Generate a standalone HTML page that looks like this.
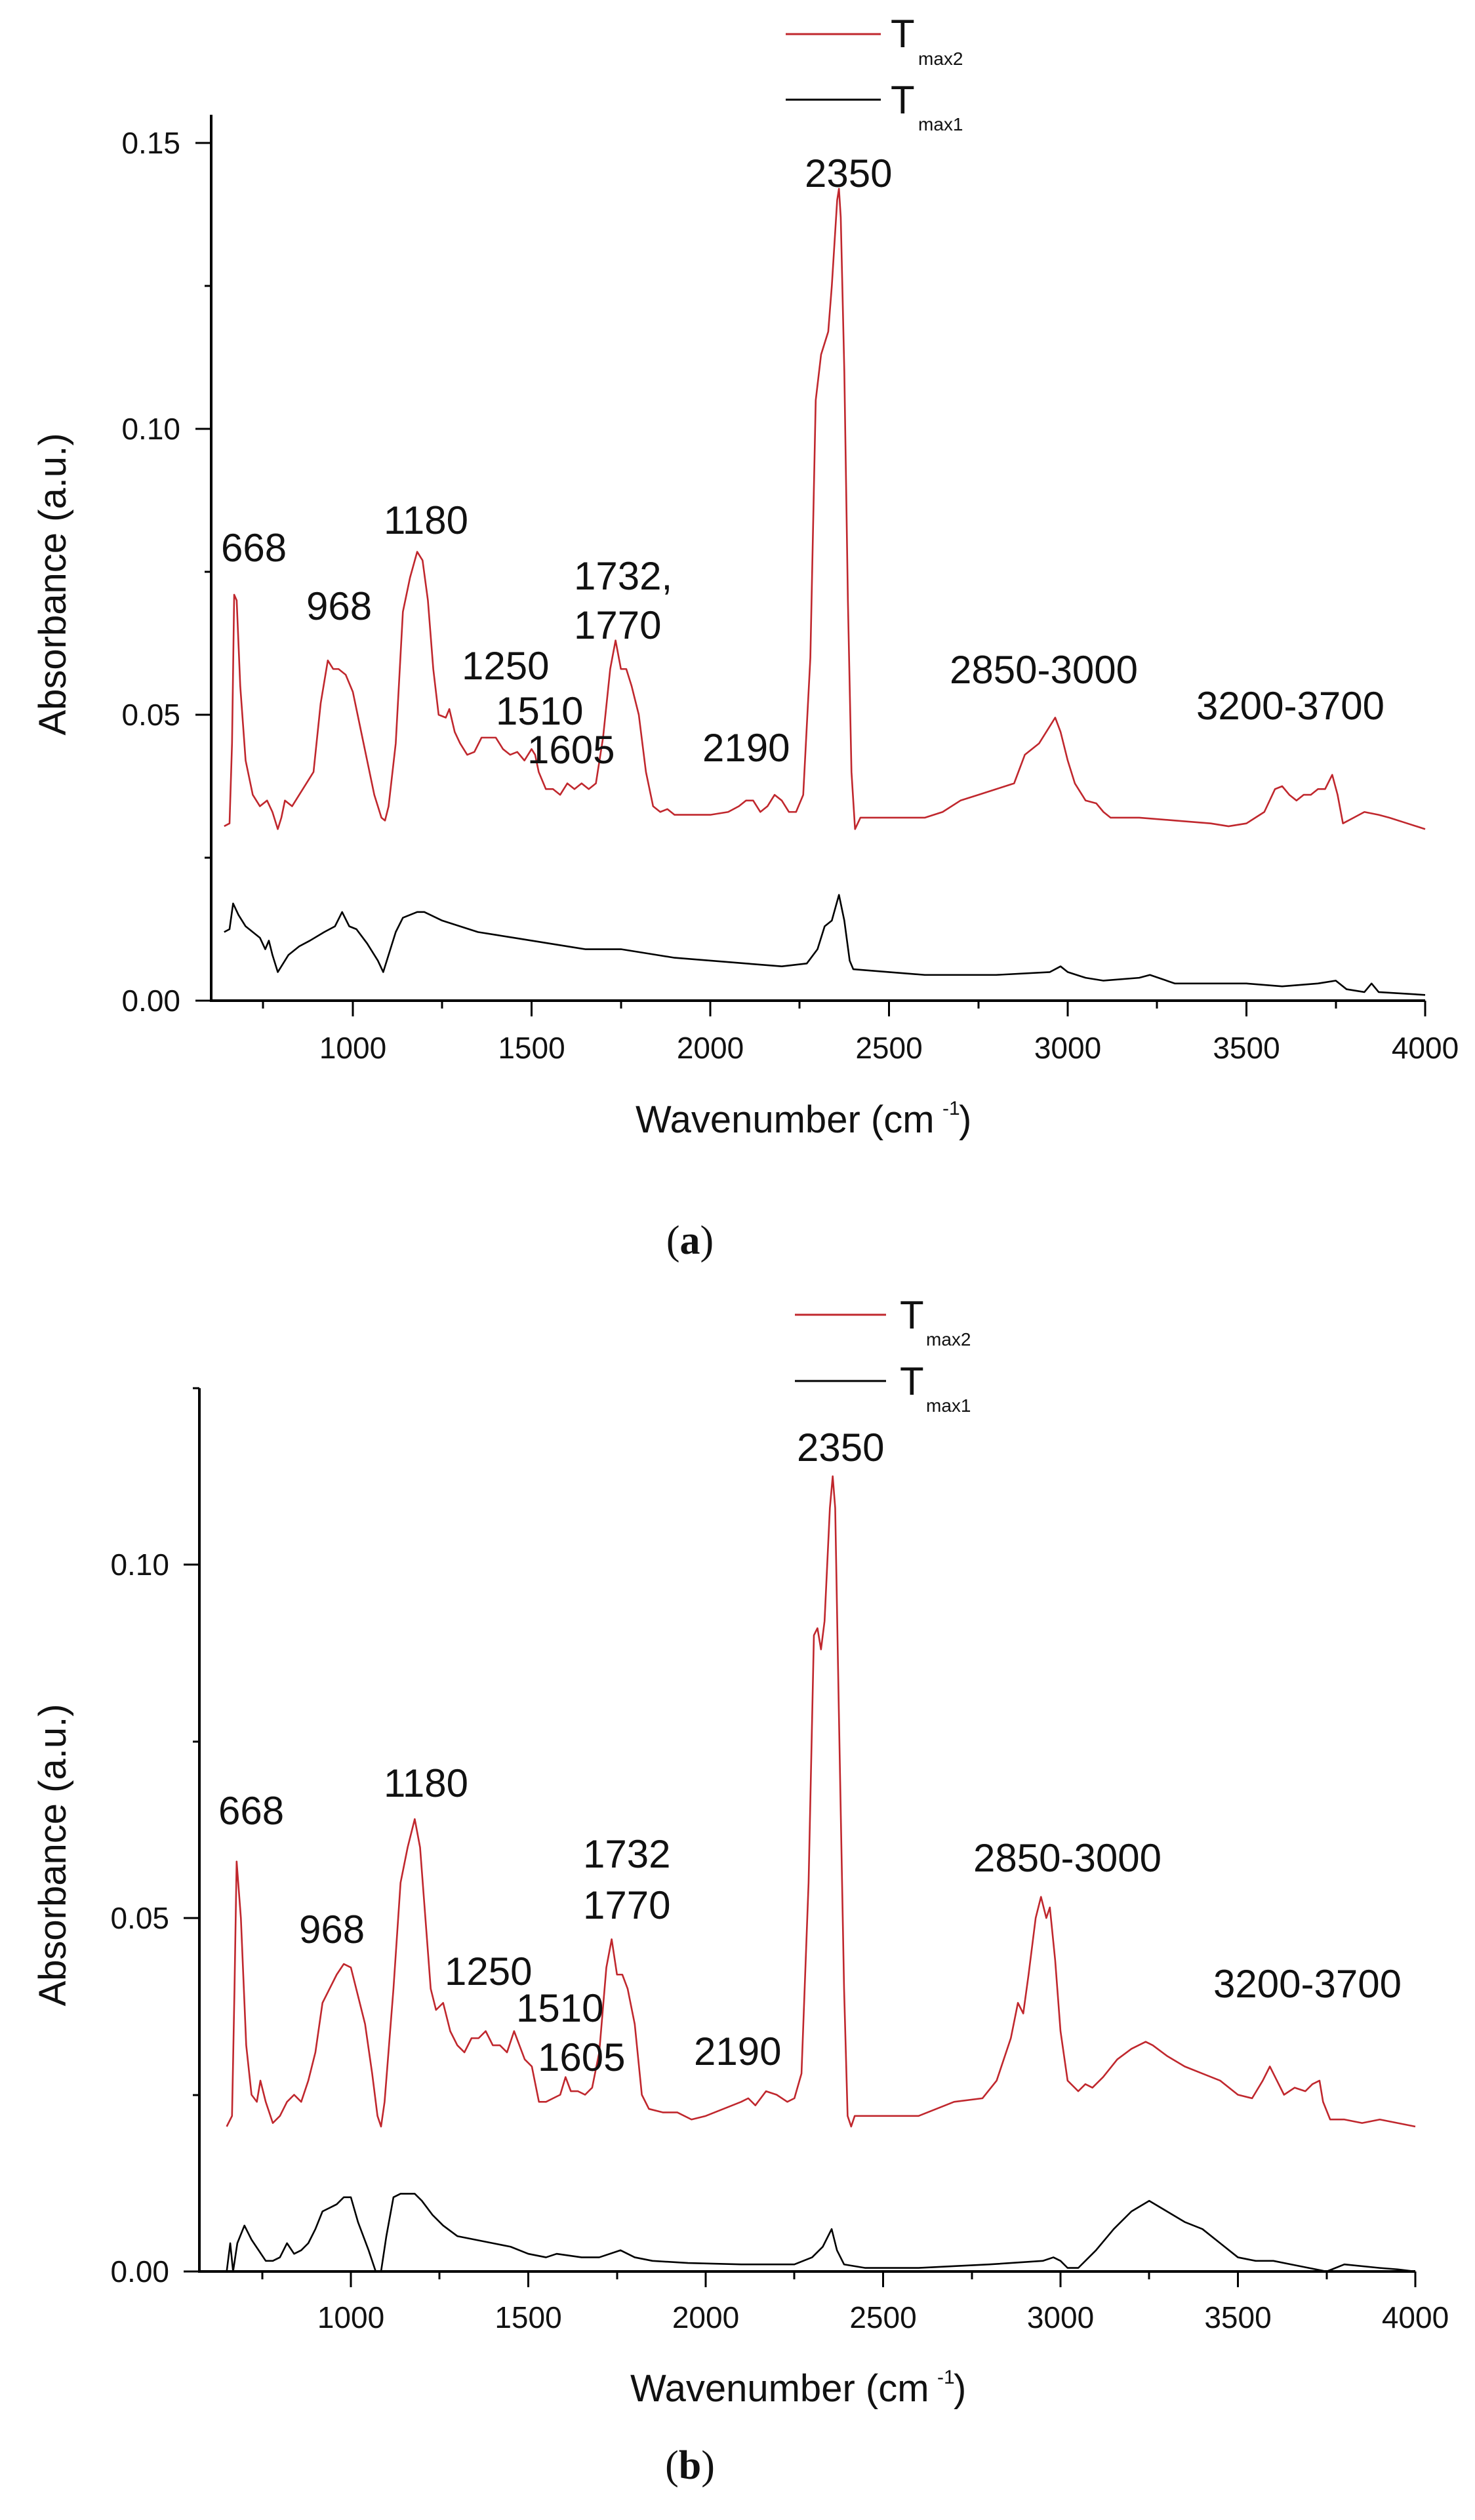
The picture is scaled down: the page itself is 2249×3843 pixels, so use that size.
<!DOCTYPE html>
<html><head><meta charset="utf-8"><style>
html,body{margin:0;padding:0;background:#fff;}
svg{display:block;}
text{font-family:"Liberation Sans",Arial,sans-serif;fill:#111;}
.t{font-size:46px;}
.p{font-size:60px;}
.ti{font-size:58px;}
.r{fill:none;stroke:#c0272d;stroke-width:2.6;vector-effect:non-scaling-stroke;stroke-linejoin:round;}
.k{fill:none;stroke:#000;stroke-width:2.6;vector-effect:non-scaling-stroke;stroke-linejoin:round;}
.ax{stroke:#000;stroke-width:4;fill:none;}
.tk{stroke:#000;stroke-width:3;}
</style></head><body>
<svg width="2249" height="3843" viewBox="0 0 2249 3843" xmlns="http://www.w3.org/2000/svg">
<!-- ===== Panel A ===== -->
<g>
<line x1="1198" y1="52" x2="1343" y2="52" stroke="#c0272d" stroke-width="3"/>
<text x="1358" y="72" style="font-size:60px">T</text><text x="1400" y="99" style="font-size:28px">max2</text>
<line x1="1198" y1="152" x2="1343" y2="152" stroke="#000" stroke-width="3"/>
<text x="1358" y="173" style="font-size:60px">T</text><text x="1400" y="199" style="font-size:28px">max1</text>

<path class="ax" d="M322,175 V1526 H2173"/>
<!-- y ticks -->
<g class="tk">
<line x1="298" y1="1526" x2="322" y2="1526"/><line x1="298" y1="1090" x2="322" y2="1090"/>
<line x1="298" y1="654" x2="322" y2="654"/><line x1="298" y1="218" x2="322" y2="218"/>
<line x1="312" y1="1308" x2="322" y2="1308"/><line x1="312" y1="872" x2="322" y2="872"/><line x1="312" y1="436" x2="322" y2="436"/>
</g>
<g class="t" text-anchor="end">
<text x="275" y="1542">0.00</text><text x="275" y="1106">0.05</text><text x="275" y="670">0.10</text><text x="275" y="234">0.15</text>
</g>
<!-- x ticks -->
<g class="tk">
<line x1="538" y1="1526" x2="538" y2="1550"/><line x1="810.5" y1="1526" x2="810.5" y2="1550"/>
<line x1="1083" y1="1526" x2="1083" y2="1550"/><line x1="1355.5" y1="1526" x2="1355.5" y2="1550"/>
<line x1="1628" y1="1526" x2="1628" y2="1550"/><line x1="1900.5" y1="1526" x2="1900.5" y2="1550"/>
<line x1="2173" y1="1526" x2="2173" y2="1550"/>
<line x1="401" y1="1526" x2="401" y2="1538"/><line x1="674" y1="1526" x2="674" y2="1538"/>
<line x1="947" y1="1526" x2="947" y2="1538"/><line x1="1219" y1="1526" x2="1219" y2="1538"/>
<line x1="1492" y1="1526" x2="1492" y2="1538"/><line x1="1764" y1="1526" x2="1764" y2="1538"/>
<line x1="2037" y1="1526" x2="2037" y2="1538"/>
</g>
<g class="t" text-anchor="middle">
<text x="538" y="1614">1000</text><text x="810.5" y="1614">1500</text><text x="1083" y="1614">2000</text>
<text x="1355.5" y="1614">2500</text><text x="1628" y="1614">3000</text><text x="1900.5" y="1614">3500</text><text x="2173" y="1614">4000</text>
</g>
<text class="ti" x="969" y="1727">Wavenumber (cm</text><text x="1437" y="1700" style="font-size:30px">-1</text><text class="ti" x="1462" y="1727">)</text>
<text class="ti" transform="translate(100,891) rotate(-90)" text-anchor="middle">Absorbance (a.u.)</text>

<g transform="matrix(0.545 0 0 -8.72 -7 1526)">
<polyline class="r" points="640,30.5 655,31 662,45 668,71 675,70 685,55 700,42 720,36 740,34 760,35 775,33 790,30 800,32 810,35 830,34 850,36 870,38 890,40 910,52 930,59.5 945,58 960,58 980,57 1000,54 1020,48 1040,42 1060,36 1080,32 1090,31.5 1100,34 1120,45 1140,68 1160,74 1180,78.5 1195,77 1210,70 1225,58 1240,50 1260,49.5 1270,51 1285,47 1300,45 1320,43 1340,43.5 1360,46 1380,46 1400,46 1420,44 1440,43 1460,43.5 1480,42 1500,44 1510,43 1520,40 1540,37 1560,37 1580,36 1600,38 1620,37 1640,38 1660,37 1680,38 1700,46 1720,58 1735,63 1750,58 1765,58 1780,55 1800,50 1820,40 1840,34 1860,33 1880,33.5 1900,32.5 1950,32.5 2000,32.5 2050,33 2080,34 2100,35 2120,35 2140,33 2160,34 2180,36 2200,35 2220,33 2240,33 2260,36 2280,60 2295,105 2310,113 2320,115 2330,117 2340,125 2350,135 2355,140 2360,142 2365,137 2375,110 2385,70 2395,40 2405,30 2420,32 2500,32 2600,32 2650,33 2700,35 2750,36 2800,37 2850,38 2880,43 2920,45 2950,48 2965,49.5 2980,47 3000,42 3020,38 3050,35 3080,34.5 3100,33 3120,32 3200,32 3300,31.5 3400,31 3450,30.5 3500,31 3550,33 3580,37 3600,37.5 3620,36 3640,35 3660,36 3680,36 3700,37 3720,37 3740,39.5 3755,36 3770,31 3800,32 3830,33 3870,32.5 3900,32 3950,31 4000,30"/>
<polyline class="k" points="640,12 655,12.5 665,17 680,15 700,13 720,12 740,11 755,9 765,10.5 775,8 790,5 800,6 820,8 850,9.5 880,10.5 920,12 950,13 970,15.5 990,13 1010,12.5 1040,10 1070,7 1085,5 1100,8 1120,12 1140,14.5 1160,15 1180,15.5 1200,15.5 1250,14 1300,13 1350,12 1400,11.5 1450,11 1500,10.5 1550,10 1600,9.5 1650,9 1700,9 1750,9 1800,8.5 1850,8 1900,7.5 2000,7 2100,6.5 2200,6 2270,6.5 2300,9 2320,13 2340,14 2360,18.5 2375,14 2390,7 2400,5.5 2500,5 2600,4.5 2800,4.5 2950,5 2980,6 3000,5 3050,4 3100,3.5 3200,4 3230,4.5 3300,3 3500,3 3600,2.5 3700,3 3750,3.5 3780,2 3830,1.5 3850,3 3870,1.5 4000,1"/>
</g>
<g class="p">
<text x="337" y="856">668</text><text x="467" y="945">968</text><text x="585" y="814">1180</text>
<text x="704" y="1036">1250</text><text x="756" y="1105">1510</text><text x="804" y="1164">1605</text>
<text x="875" y="899">1732,</text><text x="875" y="974">1770</text><text x="1071" y="1161">2190</text>
<text x="1227" y="285">2350</text><text x="1448" y="1042">2850-3000</text><text x="1824" y="1097">3200-3700</text>
</g>
<text x="1052" y="1912" text-anchor="middle" style="font-family:'Liberation Serif',serif;font-size:62px">(<tspan font-weight="bold">a</tspan>)</text>
</g>

<!-- ===== Panel B ===== -->
<g>
<line x1="1212" y1="2005" x2="1351" y2="2005" stroke="#c0272d" stroke-width="3"/>
<text x="1372" y="2026" style="font-size:60px">T</text><text x="1412" y="2052" style="font-size:28px">max2</text>
<line x1="1212" y1="2106" x2="1351" y2="2106" stroke="#000" stroke-width="3"/>
<text x="1372" y="2127" style="font-size:60px">T</text><text x="1412" y="2153" style="font-size:28px">max1</text>

<path class="ax" d="M304,2117 V3464 H2158"/>
<g class="tk">
<line x1="280" y1="3464" x2="304" y2="3464"/><line x1="280" y1="2925" x2="304" y2="2925"/><line x1="280" y1="2386" x2="304" y2="2386"/>
<line x1="294" y1="3195" x2="304" y2="3195"/><line x1="294" y1="2656" x2="304" y2="2656"/><line x1="294" y1="2117" x2="304" y2="2117"/>
</g>
<g class="t" text-anchor="end">
<text x="258" y="3480">0.00</text><text x="258" y="2941">0.05</text><text x="258" y="2402">0.10</text>
</g>
<g class="tk">
<line x1="535" y1="3464" x2="535" y2="3488"/><line x1="805.5" y1="3464" x2="805.5" y2="3488"/>
<line x1="1076" y1="3464" x2="1076" y2="3488"/><line x1="1346.5" y1="3464" x2="1346.5" y2="3488"/>
<line x1="1617" y1="3464" x2="1617" y2="3488"/><line x1="1887.5" y1="3464" x2="1887.5" y2="3488"/>
<line x1="2158" y1="3464" x2="2158" y2="3488"/>
<line x1="400" y1="3464" x2="400" y2="3476"/><line x1="670" y1="3464" x2="670" y2="3476"/>
<line x1="941" y1="3464" x2="941" y2="3476"/><line x1="1211" y1="3464" x2="1211" y2="3476"/>
<line x1="1482" y1="3464" x2="1482" y2="3476"/><line x1="1752" y1="3464" x2="1752" y2="3476"/>
<line x1="2023" y1="3464" x2="2023" y2="3476"/>
</g>
<g class="t" text-anchor="middle">
<text x="535" y="3550">1000</text><text x="805.5" y="3550">1500</text><text x="1076" y="3550">2000</text>
<text x="1346.5" y="3550">2500</text><text x="1617" y="3550">3000</text><text x="1887.5" y="3550">3500</text><text x="2158" y="3550">4000</text>
</g>
<text class="ti" x="961" y="3662">Wavenumber (cm</text><text x="1429" y="3635" style="font-size:30px">-1</text><text class="ti" x="1454" y="3662">)</text>
<text class="ti" transform="translate(100,2829) rotate(-90)" text-anchor="middle">Absorbance (a.u.)</text>

<g transform="matrix(0.541 0 0 -10.78 -6 3464)">
<polyline class="r" points="650,20.5 665,22 672,40 678,58 690,50 705,32 720,25 735,24 745,27 760,24 780,21 800,22 820,24 840,25 860,24 880,27 900,31 920,38 940,40 960,42 980,43.5 1000,43 1020,39 1040,35 1060,28 1075,22 1085,20.5 1095,24 1120,40 1140,55 1160,60 1180,64 1195,60 1210,50 1225,40 1240,37 1260,38 1280,34 1300,32 1320,31 1340,33 1360,33 1380,34 1400,32 1420,32 1440,31 1460,34 1475,32 1490,30 1510,29 1530,24 1550,24 1570,24.5 1590,25 1605,27.5 1620,25.5 1640,25.5 1660,25 1680,26 1700,31 1720,43 1735,47 1750,42 1765,42 1780,40 1800,35 1820,25 1840,23 1880,22.5 1920,22.5 1960,21.5 2000,22 2050,23 2100,24 2120,24.5 2140,23.5 2170,25.5 2200,25 2230,24 2250,24.5 2270,28 2290,55 2305,90 2315,91 2325,88 2335,92 2350,108 2358,112.5 2365,108 2375,80 2390,40 2400,22 2410,20.5 2420,22 2500,22 2600,22 2650,23 2700,24 2780,24.5 2820,27 2860,33 2880,38 2895,36.5 2910,42 2930,50 2945,53 2960,50 2970,51.5 2985,44 3000,34 3020,27 3050,25.5 3070,26.5 3090,26 3120,27.5 3160,30 3200,31.5 3240,32.5 3260,32 3300,30.5 3350,29 3400,28 3450,27 3500,25 3540,24.5 3570,27 3590,29 3610,27 3630,25 3660,26 3690,25.5 3710,26.5 3730,27 3740,24 3760,21.5 3800,21.5 3850,21 3900,21.5 3950,21 4000,20.5"/>
<polyline class="k" points="650,0 660,4 668,0 680,4 700,6.5 720,4.5 740,3 760,1.5 780,1.5 800,2 820,4 840,2.5 860,3 880,4 900,6 920,8.5 940,9 960,9.5 980,10.5 1000,10.5 1020,7 1050,3 1070,0 1085,0 1100,5 1120,10.5 1140,11 1160,11 1180,11 1200,10 1230,8 1260,6.5 1300,5 1350,4.5 1400,4 1450,3.5 1500,2.5 1550,2 1580,2.5 1650,2 1700,2 1760,3 1800,2 1850,1.5 1950,1.2 2100,1 2250,1 2300,2 2330,3.5 2355,6 2370,3 2390,1 2450,0.5 2600,0.5 2800,1 2950,1.5 2980,2 3000,1.5 3020,0.5 3050,0.5 3100,3 3150,6 3200,8.5 3250,10 3300,8.5 3350,7 3400,6 3450,4 3500,2 3550,1.5 3600,1.5 3650,1 3700,0.5 3750,0 3800,1 3900,0.5 3950,0.3 4000,0"/>
</g>
<g class="p">
<text x="333" y="2782">668</text><text x="456" y="2963">968</text><text x="585" y="2740">1180</text>
<text x="678" y="3027">1250</text><text x="787" y="3083">1510</text><text x="820" y="3158">1605</text>
<text x="889" y="2848">1732</text><text x="889" y="2926">1770</text><text x="1058" y="3149">2190</text>
<text x="1215" y="2228">2350</text><text x="1484" y="2854">2850-3000</text><text x="1850" y="3046">3200-3700</text>
</g>
<text x="1052" y="3780" text-anchor="middle" style="font-family:'Liberation Serif',serif;font-size:62px">(<tspan font-weight="bold">b</tspan>)</text>
</g>
</svg>
</body></html>
